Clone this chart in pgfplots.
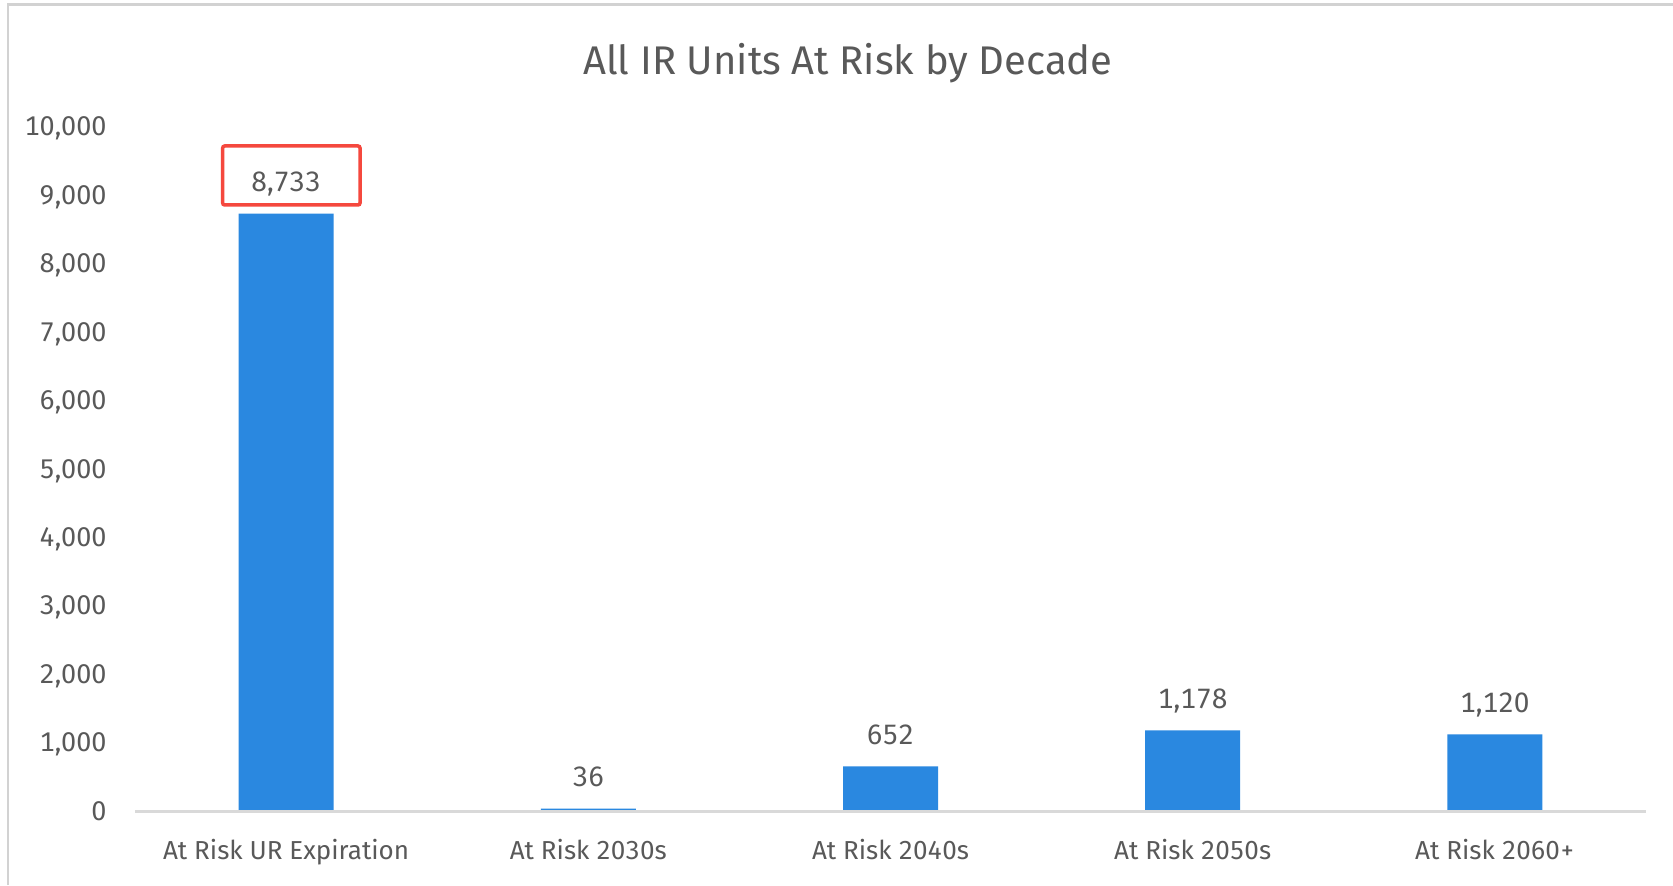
\documentclass[border=0pt]{standalone}
\usepackage{fontspec}
\setmainfont{Fira Sans}[Numbers={Lining,Monospaced}]
\usepackage{pgfplots}
\pgfplotsset{compat=1.18}
\definecolor{barblue}{RGB}{42,136,224}
\definecolor{txtgray}{RGB}{89,89,89}
\definecolor{axgray}{RGB}{217,217,217}
\definecolor{boxred}{RGB}{245,72,62}
\definecolor{framegray}{RGB}{210,210,210}
\begin{document}
\begin{tikzpicture}[x=1pt,y=1pt]
\useasboundingbox (0,0) rectangle (836.5,442.5);
\fill[white] (0,0) rectangle (836.5,442.5);
\draw[framegray, line width=1.25pt] (4,0) -- (4,440.25) -- (836.5,440.25);
\node[font=\fontsize{20}{24}\selectfont, text=txtgray, anchor=base, inner sep=0pt] at (424,405) {All IR Units At Risk by Decade};
\begin{axis}[
  at={(67.5pt,37pt)}, anchor=south west,
  scale only axis, width=755.5pt, height=342pt,
  xmin=-0.5, xmax=4.5, ymin=0, ymax=10000,
  enlargelimits=false,
  axis on top,
  ybar, bar width=47.5pt,
  axis x line=bottom, axis y line=left,
  x axis line style={draw=axgray, line width=1.5pt, -},
  y axis line style={draw=none, -},
  major tick length=0pt,
  xtick=data,
  xticklabels={At Risk UR Expiration, At Risk 2030s, At Risk 2040s, At Risk 2050s, At Risk 2060+},
  ytick={0,1000,...,10000},
  scaled y ticks=false,
  /pgf/number format/fixed,
  /pgf/number format/precision=0,
  /pgf/number format/1000 sep={,},
  /pgf/number format/assume math mode=true,
  tick label style={font=\fontsize{13}{15}\selectfont, text=txtgray, inner sep=0pt},
  yticklabel style={font=\fontsize{13.5}{15}\selectfont, anchor=base east, xshift=-14pt, yshift=-4.5pt},
  xticklabel style={anchor=base, yshift=-24pt},
  nodes near coords,
  nodes near coords style={font=\fontsize{14}{16}\selectfont, text=txtgray, anchor=base, inner sep=0pt, yshift=11pt},
  clip=false,
]
\addplot[fill=barblue, draw=none] coordinates {(0,8733) (1,36) (2,652) (3,1178) (4,1120)};
\end{axis}
\draw[boxred, line width=1.75pt, rounded corners=1pt] (111.35,340) rectangle (180,369.5);
\end{tikzpicture}
\end{document}
